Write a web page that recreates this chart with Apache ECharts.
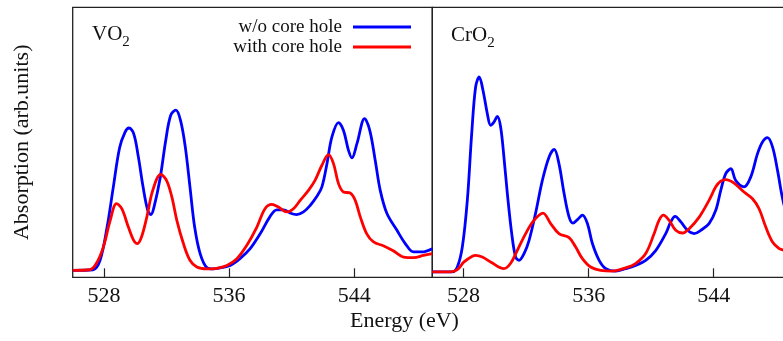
<!DOCTYPE html>
<html>
<head>
<meta charset="utf-8">
<script src="https://cdn.jsdelivr.net/npm/echarts@6/dist/echarts.min.js"></script>
<style>
  html, body { margin: 0; padding: 0; background: #fff; }
  #chart { width: 783px; height: 341px; }
</style>
</head>
<body>
<div id="chart"></div>
<script>
// tick labels on the energy axis
var energyTicks = [528, 536, 544]
var seriesNames = ['w/o core hole', 'with core hole']

// VO2, w/o core hole (blue)
var vo2BlueE = [526, 527.3, 527.75, 528.2, 528.6, 529.0, 529.35, 529.6, 529.9, 530.2, 530.5, 530.8, 531.0, 531.2, 531.6, 531.95, 532.27, 532.6, 532.9, 533.2, 533.5, 533.8, 534.15, 534.6, 535.0, 535.43, 536.07, 536.7, 537.35, 538.0, 538.6, 539.05, 539.5, 539.9, 540.33, 540.76, 541.2, 541.6, 541.94, 542.26, 542.58, 543.0, 543.32, 543.64, 543.86, 544.18, 544.67, 545.0, 545.35, 545.67, 546.1, 546.74, 547.27, 547.8, 548.34, 549]
var vo2BlueV = [2.6, 2.8, 6.3, 18.6, 33.5, 48, 53.8, 55.3, 53.2, 44.6, 33.5, 24.8, 23.2, 26, 37, 50.7, 60, 61.9, 58, 48.3, 33.5, 18.6, 8.8, 3.5, 3.1, 3.5, 4.4, 6.9, 10.6, 16.2, 22.3, 25, 25, 23.8, 23.2, 24.2, 26.7, 29.8, 33.5, 42, 52, 57.3, 54.4, 47, 44.2, 49.5, 58.8, 54.4, 43.3, 32.2, 23.6, 17.4, 12.5, 9.4, 9.4, 10.6]

// VO2, with core hole (red)
var vo2RedE = [526, 527.1, 527.5, 527.96, 528.4, 528.8, 529.14, 529.56, 529.9, 530.14, 530.4, 530.74, 531.12, 531.63, 532.0, 532.34, 532.66, 533.08, 533.5, 533.94, 534.6, 535.2, 535.86, 536.5, 537.14, 537.78, 538.3, 538.74, 539.16, 539.7, 540.12, 540.55, 541.08, 541.5, 541.94, 542.36, 542.68, 543.0, 543.32, 543.75, 544.07, 544.4, 544.8, 545.24, 545.9, 546.5, 547.16, 547.8, 548.44, 549]
var vo2RedV = [2.6, 2.8, 5, 11.2, 21.1, 27.3, 25.4, 18.6, 13.7, 12.5, 14.9, 22.3, 32.2, 38.1, 35.9, 29.8, 21.1, 12.5, 6.3, 3.8, 3.1, 3.3, 4.4, 6.9, 11.9, 18.6, 25.4, 27, 26, 24.2, 25.4, 28.5, 32.2, 35.9, 41.5, 45.4, 42.1, 34.7, 31.6, 31.2, 28.5, 22.3, 16.2, 13.1, 11.6, 9.8, 7.5, 7.3, 8.1, 8.8]

// CrO2, w/o core hole (blue)
var cro2BlueE = [526, 527.28, 527.6, 527.92, 528.24, 528.52, 528.77, 529.0, 529.24, 529.52, 529.73, 529.94, 530.16, 530.37, 530.58, 530.8, 531.08, 531.33, 531.55, 531.87, 532.19, 532.6, 533.04, 533.47, 533.8, 534.1, 534.43, 534.75, 535.0, 535.34, 535.6, 535.92, 536.24, 536.67, 537.1, 537.73, 538.37, 539.0, 539.65, 540.3, 540.93, 541.25, 541.53, 541.9, 542.32, 542.75, 543.17, 543.7, 544.13, 544.45, 544.77, 545.1, 545.4, 545.94, 546.37, 546.8, 547.12, 547.44, 547.76, 548.08, 548.38, 548.7, 549]
var cro2BlueV = [2, 2, 3.8, 11.2, 28.5, 53.2, 70.5, 74.2, 69.3, 60.6, 56.3, 57.5, 59.6, 55.7, 44.6, 31, 16.2, 7.5, 6.3, 8.8, 13.7, 23.6, 35.9, 44.6, 47.4, 42.1, 31, 22.3, 20.1, 21.7, 23, 19.9, 12.5, 6.3, 3.2, 2.3, 3.2, 4.4, 6.3, 10, 16.2, 20.5, 22.6, 20.5, 17.4, 16.2, 17.4, 19.9, 24.8, 32.2, 38.4, 40.2, 35.9, 33.5, 37.2, 45.8, 50.1, 51.7, 48.3, 39.6, 29.8, 22, 16]

// CrO2, with core hole (red)
var cro2RedE = [526, 527.17, 527.6, 528.03, 528.56, 528.77, 529.2, 529.73, 530.58, 531.0, 531.44, 531.97, 532.5, 533.08, 533.57, 534.1, 534.75, 535.17, 535.6, 536.13, 536.77, 537.52, 538.37, 539.0, 539.65, 540.19, 540.5, 540.78, 541.15, 541.57, 542.0, 542.43, 543.07, 543.7, 544.13, 544.45, 544.77, 545.3, 545.94, 546.48, 546.9, 547.33, 547.76, 548.19, 548.38, 549]
var cro2RedV = [2, 2, 2.8, 5.7, 7.8, 8.1, 7.5, 5.7, 3.2, 5.1, 10, 16.2, 21.1, 23.8, 19.9, 16.2, 14.7, 11.2, 6.9, 3.8, 2.6, 2.3, 3.5, 5.1, 8.8, 16.2, 21.1, 23, 21.1, 17.4, 16.4, 18, 22.3, 28.5, 33.5, 35.6, 36.2, 34.9, 31.6, 29.1, 25.4, 18.6, 13.1, 10.6, 10.2, 9]

var serif = '"Liberation Serif", "DejaVu Serif", serif'

function pairs (xs, ys) {
  return xs.map(function (x, i) { return [x, ys[i]] })
}

function makeX (idx) {
  return {
    type: 'value',
    gridIndex: idx,
    min: 526,
    max: 549,
    axisLine: { show: false },
    axisTick: {
      show: true,
      inside: true,
      length: 9,
      customValues: energyTicks,
      lineStyle: { color: '#222', width: 1.2 }
    },
    axisLabel: {
      show: true,
      customValues: energyTicks,
      margin: 8,
      color: '#111',
      fontSize: 22,
      fontFamily: serif
    },
    splitLine: { show: false }
  }
}

function makeY (idx, name) {
  return {
    type: 'value',
    gridIndex: idx,
    min: 0,
    max: 100,
    name: name,
    nameLocation: 'middle',
    nameGap: 39,
    nameTextStyle: { color: '#111', fontSize: 22, fontFamily: serif },
    axisLine: { show: false },
    axisTick: { show: false },
    axisLabel: { show: false },
    splitLine: { show: false }
  }
}

function makeLine (name, xIdx, data, color) {
  return {
    name: name,
    type: 'line',
    xAxisIndex: xIdx,
    yAxisIndex: xIdx,
    data: data,
    smooth: 0.35,
    showSymbol: false,
    color: color,
    lineStyle: { color: color, width: 2.8 },
    animation: false
  }
}

// chemical formula with subscript digit
function formulaTitle (left, top, main) {
  return {
    left: left, top: top,
    text: '{a|' + main + '}{b|2}',
    textStyle: {
      fontWeight: 'normal',
      rich: {
        a: { fontSize: 21, fontFamily: serif, color: '#111', lineHeight: 24, verticalAlign: 'top' },
        b: { fontSize: 15, fontFamily: serif, color: '#111', lineHeight: 26, verticalAlign: 'bottom' }
      }
    }
  }
}

var chart = echarts.init(document.getElementById('chart'))
var option = {
  animation: false,
  backgroundColor: '#fff',
  grid: [
    { left: 72.7, top: 7.3, width: 359.6, height: 270, show: true, borderColor: '#222', borderWidth: 1.3, outerBoundsMode: 'none' },
    { left: 432.3, top: 7.3, width: 359.6, height: 270, show: true, borderColor: '#222', borderWidth: 1.3, outerBoundsMode: 'none' }
  ],
  title: [
    formulaTitle(87, 19, 'VO'),
    formulaTitle(446, 20, 'CrO')
  ],
  legend: {
    data: seriesNames,
    orient: 'vertical',
    align: 'right',
    right: 367,
    top: 12,
    itemGap: 0,
    itemWidth: 58,
    itemHeight: 3,
    icon: 'rect',
    textStyle: { color: '#111', fontSize: 19, fontFamily: serif, lineHeight: 20, padding: [0, 6, 0, 0] }
  },
  graphic: [
    {
      type: 'text',
      left: 350,
      top: 310,
      style: { text: 'Energy (eV)', fill: '#111', fontSize: 22, fontFamily: serif }
    }
  ],
  xAxis: [makeX(0), makeX(1)],
  yAxis: [makeY(0, 'Absorption (arb.units)'), makeY(1, '')],
  series: [
    makeLine(seriesNames[0], 0, pairs(vo2BlueE, vo2BlueV), '#0000ff'),
    makeLine(seriesNames[1], 0, pairs(vo2RedE, vo2RedV), '#ff0000'),
    makeLine(seriesNames[0], 1, pairs(cro2BlueE, cro2BlueV), '#0000ff'),
    makeLine(seriesNames[1], 1, pairs(cro2RedE, cro2RedV), '#ff0000')
  ]
}
chart.setOption(option)
</script>
</body>
</html>
